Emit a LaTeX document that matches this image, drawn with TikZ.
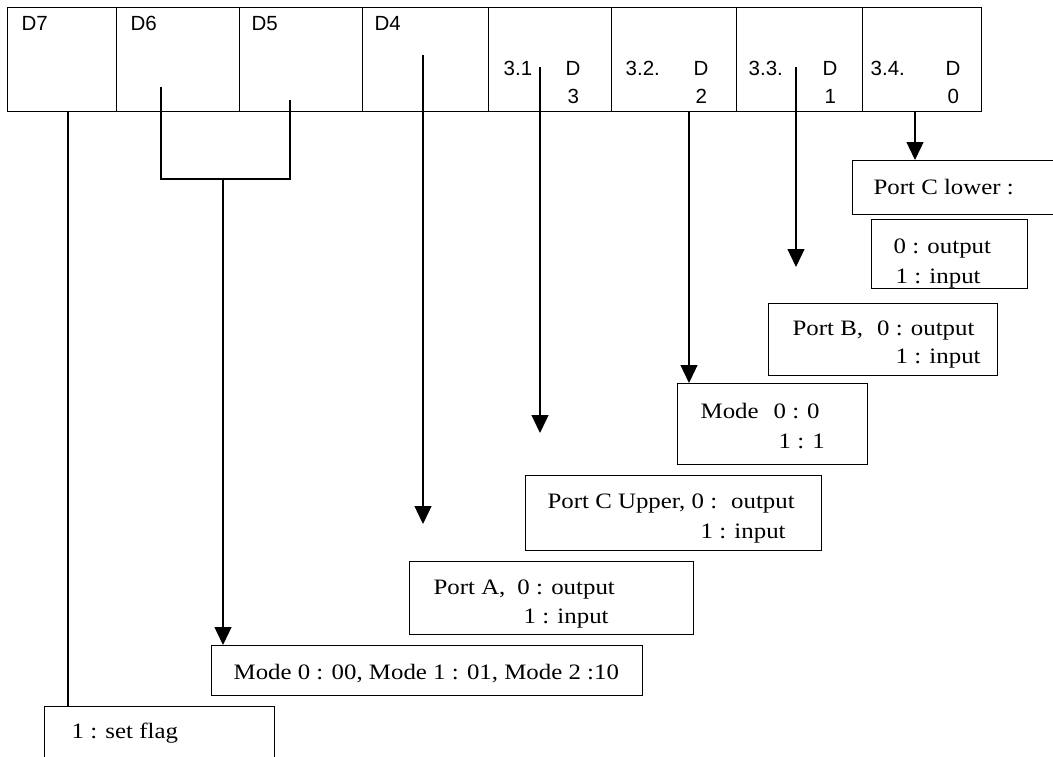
\documentclass[tikz,border=0pt]{standalone}
\usepackage{fontspec}
\setmainfont[FakeStretch=1.13]{Liberation Serif}
\newfontfamily\regfont{Liberation Sans}
\usetikzlibrary{arrows.meta}
\tikzset{
  cell/.style={draw, anchor=north west, inner sep=0pt, minimum height=104pt},
  box/.style={draw, anchor=north west, inner sep=0pt},
  txt/.style={anchor=base west, inner sep=0pt, font=\fontsize{22}{26}\selectfont},
  reg/.style={anchor=base west, inner sep=0pt, font=\regfont\fontsize{20.5}{23}\selectfont},
  wire/.style={draw, line width=1.3pt},
  arr/.style={wire, -{Triangle[width=17pt,length=18pt]}}
}
\begin{document}
\begin{tikzpicture}[x=1pt,y=-1pt,line width=1.3pt]
\useasboundingbox (0,0) rectangle (1053,756);
\clip (0,0) rectangle (1053,756);
% register cells
\node[cell, minimum width=109pt] (c7) at (7,7) {};
\node[cell, minimum width=123pt] (c6) at (116,7) {};
\node[cell, minimum width=123pt] (c5) at (239,7) {};
\node[cell, minimum width=126pt] (c4) at (362,7) {};
\node[cell, minimum width=123pt] (c3) at (488,7) {};
\node[cell, minimum width=125pt] (c2) at (611,7) {};
\node[cell, minimum width=126pt] (c1) at (736,7) {};
\node[cell, minimum width=119pt] (c0) at (862,7) {};
% register labels
\node[reg] (l7) at (21,30) {D7};
\node[reg] (l6) at (130,30) {D6};
\node[reg] (l5) at (251,30) {D5};
\node[reg] (l4) at (374,30) {D4};
\node[reg] (l31) at (503,75) {3.1};
\node[reg] (l3a) at (565,75) {D};
\node[reg] (l3b) at (567,103) {3};
\node[reg] (l32) at (625,75) {3.2.};
\node[reg] (l2a) at (693,75) {D};
\node[reg] (l2b) at (695,103) {2};
\node[reg] (l33) at (748,75) {3.3.};
\node[reg] (l1a) at (822,75) {D};
\node[reg] (l1b) at (824,103) {1};
\node[reg] (l34) at (870,75) {3.4.};
\node[reg] (l0a) at (945,75) {D};
\node[reg] (l0b) at (947,103) {0};
% result boxes
\node[box, minimum width=230pt, minimum height=60pt] (flag) at (44,706) {};
\node[box, minimum width=431pt, minimum height=50pt] (mode) at (211,645) {};
\node[box, minimum width=284pt, minimum height=73pt] (pa) at (409,561) {};
\node[box, minimum width=296pt, minimum height=75pt] (pcu) at (525,475) {};
\node[box, minimum width=190pt, minimum height=81pt] (mb) at (677,383) {};
\node[box, minimum width=229pt, minimum height=72pt] (pb) at (768,303) {};
\node[box, minimum width=156pt, minimum height=69pt] (pcl2) at (871,219) {};
\node[box, minimum width=230pt, minimum height=54pt] (pcl) at (852,160) {};
% texts
\node[txt] (tflag) at (71,738) {1 : set flag};
\node[txt] (tmode) at (233,679) {Mode 0 : 00, Mode 1 : 01, Mode 2 :10};
\node[txt] (tpa1) at (433,594) {Port A,\hspace{12pt}0 : output};
\node[txt] (tpa2) at (523,623) {1 : input};
\node[txt] (tpcu1) at (547,508) {Port C Upper, 0 :\hspace{14pt}output};
\node[txt] (tpcu2) at (700,538) {1 : input};
\node[txt] (tmb1) at (700,418) {Mode\hspace{15pt}0 :\hspace{8pt}0};
\node[txt] (tmb2) at (778,448) {1 : 1};
\node[txt] (tpb1) at (792,335) {Port B,\hspace{14pt}0 : output};
\node[txt] (tpb2) at (895,363) {1 : input};
\node[txt] (tpcl21) at (893,253) {0 : output};
\node[txt] (tpcl22) at (895,283) {1 : input};
\node[txt] (tpcl) at (873,194) {Port C lower :};
% connector start points
\coordinate (s7) at (68,111);
\coordinate (s6) at (161,87);
\coordinate (s5) at (290,100);
\coordinate (j6) at (161,179);
\coordinate (j5) at (290,179);
\coordinate (jm) at (223,179);
\coordinate (s4) at (423,55);
\coordinate (e4) at (423,524);
\coordinate (s3) at (540,67);
\coordinate (e3) at (540,433);
\coordinate (s2) at (689,111);
\coordinate (s1) at (796,67);
\coordinate (e1) at (796,267);
\coordinate (s0) at (915,111);
% connectors
\draw[wire] (s7) -- (s7 |- flag.north);
\draw[wire] (s6) -- (j6) -- (j5) -- (s5);
\draw[arr] (jm) -- (jm |- mode.north);
\draw[arr] (s4) -- (e4);
\draw[arr] (s3) -- (e3);
\draw[arr] (s2) -- (s2 |- mb.north);
\draw[arr] (s1) -- (e1);
\draw[arr] (s0) -- (s0 |- pcl.north);
\end{tikzpicture}
\end{document}
